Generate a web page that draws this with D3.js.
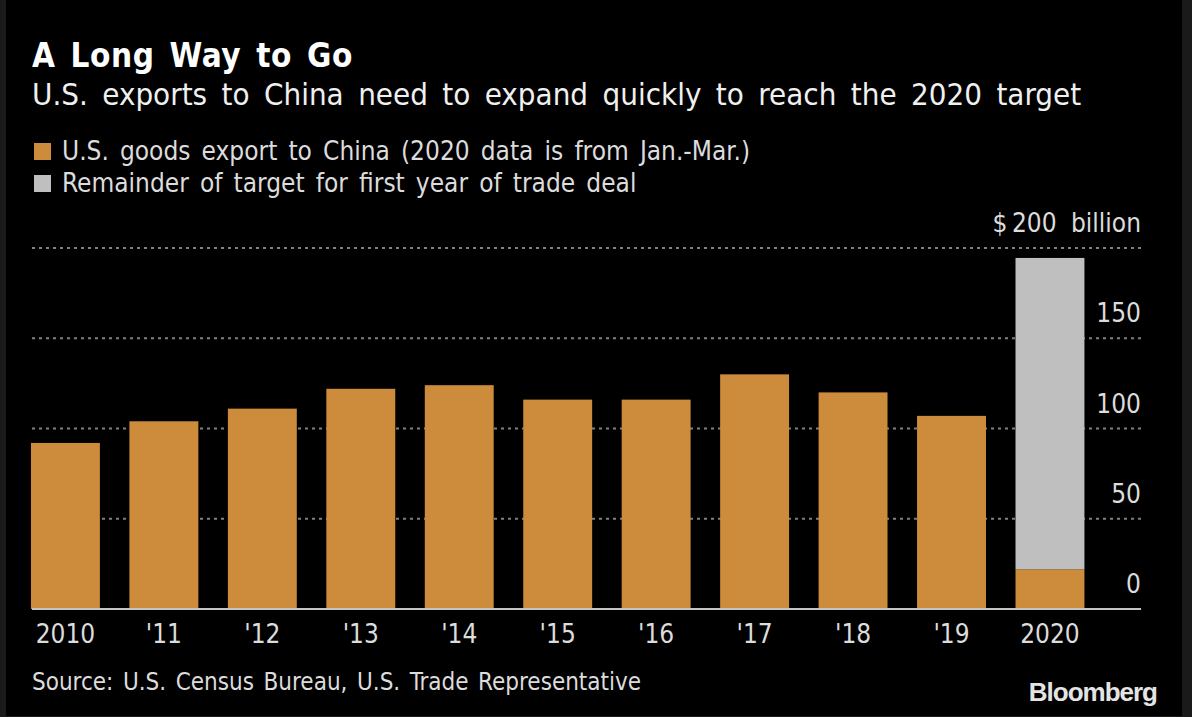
<!DOCTYPE html>
<html>
<head>
<meta charset="utf-8">
<title>A Long Way to Go</title>
<script src="https://d3js.org/d3.v7.min.js"></script>
<style>
  html, body { margin: 0; padding: 0; background: #000; }
  text { font-family: "DejaVu Sans", sans-serif; font-stretch: condensed; fill: #dcdcdc; }
</style>
</head>
<body>
<div id="chart"></div>
<script>
var categories = ["2010", "'11", "'12", "'13", "'14", "'15", "'16", "'17", "'18", "'19", "2020"];
var exportsToChina = [92, 104, 111, 122, 124, 116, 116, 130, 120, 107, 22];
var remainder = [0, 0, 0, 0, 0, 0, 0, 0, 0, 0, 172.5];
var gridTicks = [50, 100, 150, 200];
var yTicks = [0, 50, 100, 150, 200];

var width = 1192, height = 717;
var svg = d3.select("#chart").append("svg")
  .attr("width", width).attr("height", height)
  .style("display", "block");

svg.append("rect").attr("width", width).attr("height", height).attr("fill", "#1a1a1a");
svg.append("rect").attr("x", 6).attr("width", 1176).attr("height", 716).attr("fill", "#000");

var x = d3.scaleBand().domain(categories).range([16.2, 1099.2]).paddingInner(0.3).paddingOuter(0.15);
var y = d3.scaleLinear().domain([0, 200]).range([609, 248]);

// gridlines
svg.selectAll("line.grid").data(gridTicks).enter().append("line")
  .attr("class", "grid")
  .attr("x1", 32).attr("x2", 1141)
  .attr("y1", function (d) { return y(d); })
  .attr("y2", function (d) { return y(d); })
  .attr("stroke", "#808080").attr("stroke-width", 2)
  .attr("stroke-dasharray", "3,4");

// bars
svg.selectAll("rect.export").data(exportsToChina).enter().append("rect")
  .attr("class", "export")
  .attr("x", function (d, i) { return x(categories[i]); })
  .attr("width", x.bandwidth())
  .attr("y", function (d) { return y(d); })
  .attr("height", function (d) { return y(0) - y(d); })
  .attr("fill", "#cc8c3c");

svg.selectAll("rect.remainder").data(remainder).enter().append("rect")
  .attr("class", "remainder")
  .attr("x", function (d, i) { return x(categories[i]); })
  .attr("width", x.bandwidth())
  .attr("y", function (d, i) { return y(exportsToChina[i] + d); })
  .attr("height", function (d) { return y(0) - y(d); })
  .attr("fill", "#bfbfbf");

// baseline
svg.append("line").attr("x1", 32).attr("x2", 1141).attr("y1", y(0)).attr("y2", y(0))
  .attr("stroke", "#c4c4c4").attr("stroke-width", 2);

// x labels
svg.selectAll("text.xlab").data(categories).enter().append("text")
  .attr("class", "xlab")
  .attr("x", function (d) { return x(d) + x.bandwidth() / 2; })
  .attr("y", 643)
  .attr("text-anchor", "middle")
  .style("font-size", "26px")
  .text(function (d) { return d; });

// y labels
svg.selectAll("text.ylab").data(yTicks).enter().append("text")
  .attr("class", "ylab")
  .attr("x", 1141)
  .attr("y", function (d) { return y(d) - 16; })
  .attr("text-anchor", "end")
  .style("font-size", "26px")
  .style("word-spacing", "7px")
  .text(function (d) { return d == 200 ? "$\u2009200 billion" : d; });

// titles
svg.append("text").attr("x", 32).attr("y", 67)
  .style("font-size", "33px").style("font-weight", "bold").style("letter-spacing", "0.6px")
  .style("word-spacing", "4px").style("fill", "#fff").text("A Long Way to Go");
svg.append("text").attr("x", 32).attr("y", 105)
  .style("font-size", "31px").style("word-spacing", "5.6px").style("fill", "#f0f0f0")
  .text("U.S. exports to China need to expand quickly to reach the 2020 target");

// legend
var legendItems = [
  { label: "U.S. goods export to China (2020 data is from Jan.-Mar.)", color: "#cc8c3c", y: 151 },
  { label: "Remainder of target for first year of trade deal", color: "#bfbfbf", y: 183 }
];
legendItems.forEach(function (l) {
  svg.append("rect").attr("x", 34).attr("y", l.y - 8).attr("width", 17).attr("height", 17).attr("fill", l.color);
  svg.append("text").attr("x", 62).attr("y", l.y + 9).style("font-size", "26px").style("word-spacing", "3.7px").text(l.label);
});

// source
svg.append("text").attr("x", 32).attr("y", 690).style("font-size", "24px").style("word-spacing", "2.7px")
  .text("Source: U.S. Census Bureau, U.S. Trade Representative");
svg.append("text").attr("x", 1157).attr("y", 701).attr("text-anchor", "end")
  .style("font-family", "Liberation Sans").style("font-stretch", "normal").style("font-weight", "bold").style("font-size", "26px")
  .style("letter-spacing", "-1px").style("fill", "#e4e4e4").text("Bloomberg");
</script>
</body>
</html>
